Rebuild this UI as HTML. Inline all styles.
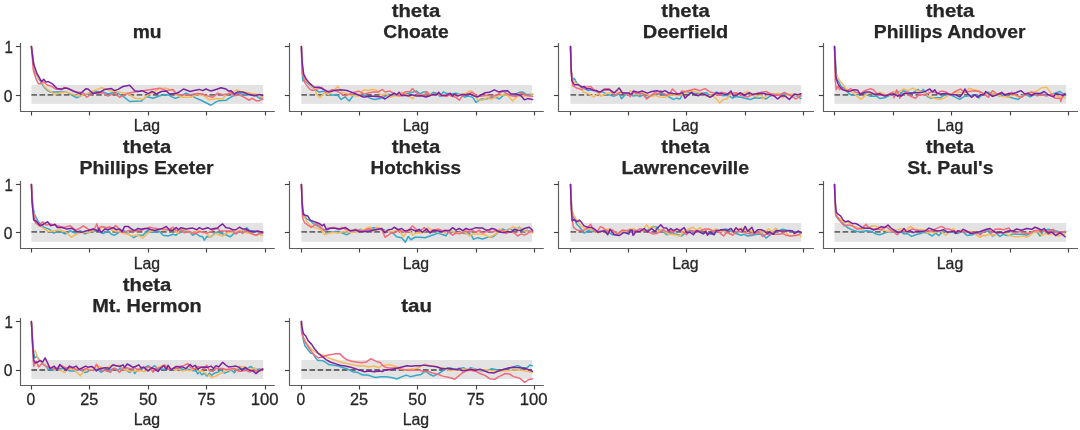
<!DOCTYPE html><html><head><meta charset="utf-8"><style>html,body{margin:0;padding:0;background:#fff;width:1080px;height:430px;overflow:hidden}svg{display:block;will-change:transform}text{font-family:"Liberation Sans",sans-serif;fill:#262626}.t{font-weight:bold;font-size:18.0px;stroke:#262626;stroke-width:0.25px}.k{font-size:16.5px;stroke:#262626;stroke-width:0.3px}</style></head><body>
<svg width="1080" height="430" viewBox="0 0 1080 430">
<rect x="31.4" y="85" width="231.76" height="18.87" fill="#e3e3e3"/>
<line x1="31.4" y1="94.9" x2="263.16" y2="94.9" stroke="#6a6a6a" stroke-width="1.9" stroke-dasharray="5.6 2.5"/>
<path d="M31.4 46.42 L34.98 72.23 L39.63 80.37 L44.28 87.35 L47.77 90.84 L51.26 92.23 L54.05 92.09 L60.56 92.09 L67.07 92.09 L73.58 96.16 L76.84 97.79 L81.72 95.35 L88 94 L89.86 93.72 L96.33 91.5 L103 91.92 L108 94 L114.67 91.92 L123 96.08 L129.67 101.5 L141.33 101.08 L146.33 96.5 L153 98.17 L161.33 95.25 L168 94.83 L174.67 98.17 L176 98.17 L178 97.33 L180.17 96.5 L186 93.17 L191 95.25 L196 98.17 L201 100.25 L206 102.75 L211 105.25 L216 101.92 L219.33 100.67 L226 100.25 L229.33 98.17 L232.67 96.08 L237.67 93.58 L242.67 94 L247.67 94.83 L256 95.67 L259.33 98.17 L262.67 97.75" fill="none" stroke="#37a8c8" stroke-width="1.5" stroke-linejoin="round" stroke-linecap="round"/>
<path d="M31.4 46.42 L33.81 67.58 L38.47 78.05 L41.95 82.12 L44.28 86.19 L47.77 89.67 L51.26 92 L54.05 94.53 L60.56 92.91 L67.07 92.09 L73.58 94.53 L80.09 96.16 L86.6 93.72 L88 93.17 L93.06 90.98 L101.33 87.75 L111.33 90.67 L118 91.92 L128 93.58 L134.67 98.17 L143 99 L148 94.83 L154.67 91.5 L159.67 88.58 L166.33 88.17 L173 90.67 L176 94.83 L178 95.67 L182.67 97.33 L191 97.33 L196 94.83 L201 94.42 L204.33 96.08 L209.33 99.83 L216 98.58 L222.67 99 L226 94.83 L232.67 91.92 L236.83 89.83 L241 91.5 L246 92.33 L251 93.58 L256 94 L259.33 95.67 L262.67 97.33" fill="none" stroke="#f7ba5b" stroke-width="1.5" stroke-linejoin="round" stroke-linecap="round"/>
<path d="M31.4 46.42 L33.23 69.91 L36.14 79.21 L38.47 83.86 L40.79 83.86 L43.12 81.53 L47.19 85.02 L51.26 86.19 L55.91 89.09 L61.72 89.67 L64.05 87.35 L68 88.51 L70.33 89.65 L76.84 92.09 L83.35 92.91 L86.6 96.98 L88 96.5 L91.49 93.72 L94.67 93.17 L103 92.75 L108 96.08 L114.67 93.17 L119.67 97.33 L128 93.17 L134.67 91.92 L146.33 90.25 L154.67 89 L159.67 88.17 L166.33 90.67 L173 89.42 L176.17 93.38 L179.33 94.42 L184.33 94.83 L191 94.42 L197.67 93.58 L202.67 94 L207.67 96.08 L212.67 97.33 L217.67 93.17 L222.67 94.83 L227.67 94 L231 92.75 L234.33 95.67 L239.33 94.83 L244.33 97.33 L249.33 100.25 L251.83 98.17 L256 100.67 L259.33 100.67 L262.67 99" fill="none" stroke="#f26b7d" stroke-width="1.5" stroke-linejoin="round" stroke-linecap="round"/>
<path d="M31.4 46.42 L33.52 63.8 L36.72 72.81 L39.63 78.05 L41.37 81.53 L43.7 79.21 L46.02 82.12 L48.35 81.53 L52.42 83.86 L57.07 88.51 L61.72 89.09 L65.21 87.93 L68 88.51 L73.58 91.28 L80.09 93.72 L85.79 88.84 L88 89 L93.06 93.65 L96.33 92.75 L100.5 91.92 L104.67 89.42 L111.33 88.58 L114.67 90.67 L118 89.42 L123 86.5 L129.67 85.25 L134.67 90.67 L138 91.5 L142.17 90.67 L148 93.58 L152.17 91.5 L156.33 94 L161.33 91.5 L166.33 91.08 L169.67 94 L176 93.58 L178 92.33 L179.33 91.92 L183.5 89 L190.17 91.5 L195.17 90.25 L199.33 89.42 L202.67 90.67 L206 89 L211 91.08 L216 89.42 L221 87.75 L226 89 L228.5 91.08 L231 90.67 L234.33 94 L237.67 91.92 L242.67 91.92 L247.67 94 L254.33 95.67 L259.33 94.42 L262.67 95.67" fill="none" stroke="#7b23a0" stroke-width="1.5" stroke-linejoin="round" stroke-linecap="round"/>
<path d="M20.5 43.07 V111.5 H274.8" fill="none" stroke="#5e5e5e" stroke-width="1.15"/>
<line x1="15.9" y1="46.5" x2="20.5" y2="46.5" stroke="#404040" stroke-width="1.15"/>
<line x1="15.9" y1="95.5" x2="20.5" y2="95.5" stroke="#404040" stroke-width="1.15"/>
<line x1="31.5" y1="111.5" x2="31.5" y2="115.5" stroke="#404040" stroke-width="1.15"/>
<line x1="89.5" y1="111.5" x2="89.5" y2="115.5" stroke="#404040" stroke-width="1.15"/>
<line x1="148.5" y1="111.5" x2="148.5" y2="115.5" stroke="#404040" stroke-width="1.15"/>
<line x1="206.5" y1="111.5" x2="206.5" y2="115.5" stroke="#404040" stroke-width="1.15"/>
<line x1="265.5" y1="111.5" x2="265.5" y2="115.5" stroke="#404040" stroke-width="1.15"/>
<text class="k" x="4.53" y="52.72" textLength="8.37" lengthAdjust="spacingAndGlyphs">1</text>
<text class="k" x="3.72" y="101.65" textLength="8.7" lengthAdjust="spacingAndGlyphs">0</text>
<text class="k" x="133.7" y="130.8" textLength="26.43" lengthAdjust="spacingAndGlyphs">Lag</text>
<text class="t" x="132.66" y="38.07" textLength="28.88" lengthAdjust="spacingAndGlyphs">mu</text>
<rect x="301.4" y="85" width="230.67" height="18.87" fill="#e3e3e3"/>
<line x1="301.4" y1="94.9" x2="532.07" y2="94.9" stroke="#6a6a6a" stroke-width="1.9" stroke-dasharray="5.6 2.5"/>
<path d="M301.4 46.42 L302.07 72.56 L302.88 80.7 L305.33 81.51 L309.4 84.77 L314.28 88.84 L319.16 92.09 L324.05 91.28 L330.56 95.35 L337.07 94.53 L341.14 99.42 L345.21 96.98 L349.28 101.05 L353.35 95.35 L359.93 95.31 L365 95.25 L366.37 96.16 L370 98.17 L375 99.42 L380 98.58 L383.33 97.33 L388.33 94.42 L393.33 94.83 L398.33 95.25 L403.33 94 L408.33 93.58 L413.33 91.92 L416.67 91.08 L420 94 L423.33 91.92 L426.67 91.92 L430 94.83 L433.33 92.33 L436.67 93.17 L440 96.5 L443.33 91.92 L446.33 93.38 L450 93.58 L451 94 L456 93.17 L461 94.83 L464.33 96.92 L469.33 96.08 L472.67 97.33 L476 102.33 L481 99 L486 99 L491 97.75 L496 97.33 L499.33 99 L504.33 94.42 L507.67 94 L511 95.25 L514.33 94.42 L519.33 92.33 L522.67 91.92 L526 94.42 L532.67 94.42" fill="none" stroke="#37a8c8" stroke-width="1.5" stroke-linejoin="round" stroke-linecap="round"/>
<path d="M301.4 46.42 L302.07 70.93 L304.51 79.07 L309.4 83.95 L314.28 88.84 L317.53 95.35 L319.98 97.79 L324.05 92.91 L328.93 94.53 L333.81 90.47 L337.88 86.4 L341.95 92.09 L346.84 93.72 L351.72 95.35 L358.23 96.16 L360 94.42 L363.12 90.47 L365 89.83 L368 90.47 L370 89.83 L373.33 89.42 L376.67 90.25 L380 94.42 L383.33 94.83 L386.67 94 L390 97.33 L393.33 96.08 L398.33 96.08 L401.67 92.33 L405 94 L408.33 95.25 L412.5 99 L415 95.67 L420 94.83 L425 94 L428.33 93.17 L431.67 94.83 L435 94 L440 94.83 L443.33 94.83 L446.33 95.04 L450 94 L451 96.08 L456 95.25 L461 94.42 L466 93.17 L471 90.67 L474.33 94.83 L477.67 99.83 L482.67 100.25 L487.67 97.33 L491 99.42 L496 96.92 L501 94.83 L507.67 95.25 L512.67 101.08 L516.83 96.5 L521 95.67 L526 96.08 L529.33 96.08 L532.67 93.58" fill="none" stroke="#f7ba5b" stroke-width="1.5" stroke-linejoin="round" stroke-linecap="round"/>
<path d="M301.4 46.42 L302.07 69.3 L304.51 82.33 L309.4 88.84 L312.65 90.47 L317.53 88.84 L321.6 87.21 L326.49 92.09 L332.19 89.65 L338.7 92.09 L345.21 96.16 L351.72 92.91 L358.23 91.28 L360 91.5 L363.12 93.72 L365 94 L368.17 93.02 L373.33 91.92 L378.33 91.92 L382.5 89.42 L385 91.92 L390 91.08 L395 94 L400 96.08 L405 91.92 L410 91.5 L412.5 88.58 L415.83 92.33 L420 95.25 L425 94.83 L426.67 91.92 L430 95.25 L435 94 L440 94.42 L446.33 96.5 L450 94.42 L451 96.08 L456 97.33 L459.33 100.25 L462.67 95.67 L467.67 94 L472.67 92.33 L477.67 96.5 L482.67 96.08 L487.67 95.25 L492.67 96.5 L497.67 94.42 L502.67 91.08 L506 93.17 L511 95.67 L516 96.5 L521 92.75 L526 95.25 L532.67 96.5" fill="none" stroke="#f26b7d" stroke-width="1.5" stroke-linejoin="round" stroke-linecap="round"/>
<path d="M301.4 46.42 L302.07 61.16 L303.7 74.19 L306.14 79.07 L309.4 83.14 L314.28 87.21 L319.16 87.21 L324.05 89.65 L328.93 92.09 L333.81 90.47 L340.33 89.65 L346.84 90.47 L353.35 92.91 L359.93 95.52 L363.12 96.98 L365 96.92 L368 96.16 L370 96.08 L376.67 96.5 L381.67 96.92 L385 99 L390 95.67 L394.17 93.17 L396.67 94.83 L399.17 92.33 L401.67 95.67 L405 95.25 L408.33 96.08 L411.67 94.83 L416.67 96.08 L421.67 95.67 L425.83 96.92 L430 95.67 L433.33 94.42 L436.67 94.83 L438.75 92.33 L441.67 95.67 L446.33 95.25 L450.08 93.38 L452.67 96.08 L454.33 94 L457.67 96.08 L461.83 94.42 L466 94.83 L470.17 94 L474.33 96.08 L477.67 96.92 L481 94.83 L485.17 92.75 L489.33 92.33 L494.33 89.83 L498.5 91.92 L502.67 91.08 L507.67 90.67 L511 94 L516 94 L521 95.67 L524.33 99.83 L527.67 98.58 L532.67 99.42" fill="none" stroke="#7b23a0" stroke-width="1.5" stroke-linejoin="round" stroke-linecap="round"/>
<path d="M289.5 43.07 V111.5 H543.8" fill="none" stroke="#5e5e5e" stroke-width="1.15"/>
<line x1="284.9" y1="46.5" x2="289.5" y2="46.5" stroke="#404040" stroke-width="1.15"/>
<line x1="284.9" y1="95.5" x2="289.5" y2="95.5" stroke="#404040" stroke-width="1.15"/>
<line x1="301.5" y1="111.5" x2="301.5" y2="115.5" stroke="#404040" stroke-width="1.15"/>
<line x1="359.5" y1="111.5" x2="359.5" y2="115.5" stroke="#404040" stroke-width="1.15"/>
<line x1="417.5" y1="111.5" x2="417.5" y2="115.5" stroke="#404040" stroke-width="1.15"/>
<line x1="476.5" y1="111.5" x2="476.5" y2="115.5" stroke="#404040" stroke-width="1.15"/>
<line x1="534.5" y1="111.5" x2="534.5" y2="115.5" stroke="#404040" stroke-width="1.15"/>
<text class="k" x="402.65" y="130.8" textLength="26.43" lengthAdjust="spacingAndGlyphs">Lag</text>
<text class="t" x="391.68" y="17.07" textLength="48.52" lengthAdjust="spacingAndGlyphs">theta</text>
<text class="t" x="383.39" y="38.07" textLength="65.31" lengthAdjust="spacingAndGlyphs">Choate</text>
<rect x="570.5" y="85" width="230.62" height="18.87" fill="#e3e3e3"/>
<line x1="570.5" y1="94.9" x2="801.12" y2="94.9" stroke="#6a6a6a" stroke-width="1.9" stroke-dasharray="5.6 2.5"/>
<path d="M570.5 46.42 L571.07 69.3 L572.7 80.7 L574.33 78.26 L576.77 83.14 L580.02 85.58 L584.91 88.84 L588.16 90.47 L593.05 89.65 L597.93 92.09 L602.81 92.09 L607.7 94.53 L614.21 96.16 L619.09 93.72 L621.53 98.6 L625.6 94.53 L630 94.83 L632.12 95.35 L633.33 96.08 L637 95.35 L640 96.5 L643.33 94.83 L646.67 97.75 L651.67 95.67 L656.67 94.83 L660.83 92.75 L665 95.25 L668.33 96.5 L673.33 99.42 L676.67 98.17 L680 99 L683.33 92.75 L686.67 92.33 L691.67 93.17 L696.67 93.58 L701.67 93.17 L706.67 92.75 L710 96.08 L713.33 95.67 L716.33 91.92 L719.67 94 L722.67 95.67 L727.67 95.25 L732.67 98.17 L736 96.5 L741 97.33 L746 98.58 L751 99.42 L754.33 97.75 L759.33 98.17 L762.67 97.33 L766 99 L769.33 96.5 L774.33 94 L779.33 94.42 L784.33 94 L789.33 94.83 L796 95.67 L801 98.58" fill="none" stroke="#37a8c8" stroke-width="1.5" stroke-linejoin="round" stroke-linecap="round"/>
<path d="M570.5 46.42 L571.07 69.3 L572.7 80.7 L576.77 83.95 L580.02 85.58 L583.28 92.09 L586.53 92.91 L589.79 94.53 L593.86 96.98 L597.93 93.72 L601.19 96.16 L606.07 93.72 L612.58 92.09 L617.47 92.09 L622.35 92.91 L628.86 94.53 L630 90.67 L632.12 92.09 L633.33 94 L637 93.72 L638.33 94.83 L641.67 92.75 L646.67 94 L651.67 96.5 L655 95.25 L659.17 96.92 L665 97.33 L670 94.83 L676.67 95.67 L681.67 94.83 L686.67 91.92 L693.33 91.08 L696.67 91.92 L701.67 93.17 L706.67 96.5 L711.67 94.83 L716.33 98.58 L719.67 102.96 L722.67 99.83 L726.83 99 L730.17 94.42 L734.33 93.58 L739.33 94.83 L744.33 92.75 L747.67 91.5 L751 94.83 L756 96.5 L761 94.83 L762.67 99 L767.67 95.25 L772.67 94.42 L777.67 93.17 L782.67 97.75 L787.67 94 L794.33 94.83 L801 96.5" fill="none" stroke="#f7ba5b" stroke-width="1.5" stroke-linejoin="round" stroke-linecap="round"/>
<path d="M570.5 46.42 L571.07 72.56 L572.7 85.58 L576.77 88.02 L581.65 89.65 L585.72 87.21 L590.6 86.4 L594.67 90.47 L599.56 92.91 L604.44 88.84 L609.33 88.84 L614.21 95.35 L620.72 92.09 L627.23 93.72 L630.24 96.75 L632.5 92.33 L633.74 92.09 L636.83 93.45 L642.5 93.58 L646.67 99 L650.83 95.67 L655 92.33 L658.33 94 L660.83 90.67 L663.33 93.17 L666.67 95.25 L670 93.17 L672.5 89 L675.83 92.33 L679.17 94.83 L681.67 91.08 L685 91.5 L690 90.25 L695 89 L700 90.67 L705 88.58 L710 91.92 L713.33 92.75 L716.33 94.21 L720 95.25 L721 92.33 L726 93.17 L731 93.58 L736 92.75 L741 95.25 L747.67 96.92 L752.67 94.83 L759.33 92.75 L766 91.5 L769.33 93.17 L774.33 94.83 L779.33 95.25 L784.33 92.33 L789.33 94.83 L796 99 L801 95.67" fill="none" stroke="#f26b7d" stroke-width="1.5" stroke-linejoin="round" stroke-linecap="round"/>
<path d="M570.5 46.42 L571.07 66.05 L571.88 80.7 L574.33 84.77 L578.4 84.77 L581.65 87.21 L584.09 86.4 L586.53 88.84 L590.6 88.84 L593.05 90.47 L596.3 90.47 L599.56 92.09 L604.44 89.65 L609.33 89.65 L614.21 92.91 L619.09 88.02 L622.35 92.91 L628.86 92.91 L630 94 L632.12 93.72 L633.33 91.08 L637 92.09 L638.33 92.33 L642.5 91.08 L647.5 93.17 L651.67 91.5 L656.67 90.67 L661.67 91.92 L665 90.67 L668.33 92.75 L673.33 93.58 L676.67 94 L680 93.58 L682.5 92.75 L685 98.17 L688.33 94.83 L691.67 92.33 L695 94.83 L698.33 95.67 L701.67 93.58 L706.67 95.25 L710 97.33 L713.33 95.25 L716.33 92.75 L720 93.58 L721 93.17 L724.33 94.42 L727.67 94 L731 91.08 L733.5 96.08 L736.83 94.83 L740.17 92.75 L744.33 95.25 L749.33 92.75 L752.67 94.42 L757.67 93.58 L762.67 93.17 L766 94 L769.33 94.42 L774.33 96.08 L777.67 99 L781 96.08 L785.17 96.08 L789.33 99.42 L794.33 94 L797.67 94.83 L801 93.58" fill="none" stroke="#7b23a0" stroke-width="1.5" stroke-linejoin="round" stroke-linecap="round"/>
<path d="M558.5 43.07 V111.5 H813.9" fill="none" stroke="#5e5e5e" stroke-width="1.15"/>
<line x1="553.9" y1="46.5" x2="558.5" y2="46.5" stroke="#404040" stroke-width="1.15"/>
<line x1="553.9" y1="95.5" x2="558.5" y2="95.5" stroke="#404040" stroke-width="1.15"/>
<line x1="570.5" y1="111.5" x2="570.5" y2="115.5" stroke="#404040" stroke-width="1.15"/>
<line x1="628.5" y1="111.5" x2="628.5" y2="115.5" stroke="#404040" stroke-width="1.15"/>
<line x1="686.5" y1="111.5" x2="686.5" y2="115.5" stroke="#404040" stroke-width="1.15"/>
<line x1="745.5" y1="111.5" x2="745.5" y2="115.5" stroke="#404040" stroke-width="1.15"/>
<line x1="803.5" y1="111.5" x2="803.5" y2="115.5" stroke="#404040" stroke-width="1.15"/>
<text class="k" x="672.15" y="130.8" textLength="26.43" lengthAdjust="spacingAndGlyphs">Lag</text>
<text class="t" x="661.18" y="17.07" textLength="48.52" lengthAdjust="spacingAndGlyphs">theta</text>
<text class="t" x="642.75" y="38.07" textLength="85.59" lengthAdjust="spacingAndGlyphs">Deerfield</text>
<rect x="834.5" y="85" width="231.76" height="18.87" fill="#e3e3e3"/>
<line x1="834.5" y1="94.9" x2="1066.26" y2="94.9" stroke="#6a6a6a" stroke-width="1.9" stroke-dasharray="5.6 2.5"/>
<path d="M834.5 46.42 L836.81 79.21 L839.14 82.7 L841.47 86.77 L843.91 87.86 L848.91 93.72 L853.79 95.35 L858.67 94.53 L863.56 92.91 L870.07 96.16 L876.58 96.16 L879.84 98.6 L884.72 97.79 L889.6 95.35 L894 94.42 L896.12 94.53 L899 91.5 L901 93.72 L903.17 90.67 L907.33 91.92 L912.33 93.17 L918.17 89.42 L920.67 91.92 L923.17 89.42 L925.67 92.33 L927.33 96.5 L930.67 98.17 L935.67 97.75 L940.67 97.75 L944 95.25 L947.33 94.83 L951.5 95.25 L955.67 97.33 L959.83 99.42 L964 96.5 L969 95.67 L973.17 95.25 L977.33 94.83 L979 98.17 L980 96.5 L983.67 94.21 L988.33 92.33 L993.33 94 L1000 96.08 L1005 94.83 L1010 97.33 L1013.33 98.17 L1018.33 99.42 L1023.33 94.42 L1026.67 94.83 L1030 96.92 L1035 94 L1040 93.58 L1045 94.83 L1050 94.83 L1055 93.17 L1060 91.5 L1063.33 94 L1065 95.67" fill="none" stroke="#37a8c8" stroke-width="1.5" stroke-linejoin="round" stroke-linecap="round"/>
<path d="M834.5 46.42 L835.65 72.23 L837.98 78.05 L840.3 81.53 L842.63 83.86 L844.95 87.35 L847.28 89.67 L852.16 92.09 L857.05 96.16 L861.12 99.42 L865.19 95.35 L870.07 92.91 L874.95 94.53 L879.84 92.09 L884.72 94.53 L889.6 95.35 L894 91.5 L896.12 92.09 L897.33 94 L900.83 90.76 L904 89 L907.33 90.67 L913.17 88.17 L917.33 90.67 L920.67 91.5 L924.83 93.17 L929 96.5 L934 98.17 L940.67 99.42 L944 98.17 L949 94.83 L954 92.75 L959 91.92 L964 93.17 L969 88.17 L974 89.83 L979 90.67 L980 94 L984 94 L985 94.83 L990 93.17 L996.67 94.42 L1001.67 96.5 L1008.33 97.33 L1013.33 94.83 L1018.33 96.92 L1023.33 95.67 L1030 93.17 L1036.67 91.08 L1041.67 87.75 L1046.67 87.33 L1050 91.92 L1053.33 94.83 L1058.33 96.5 L1063.33 97.33 L1065 98.17" fill="none" stroke="#f7ba5b" stroke-width="1.5" stroke-linejoin="round" stroke-linecap="round"/>
<path d="M834.5 46.42 L835.24 80.37 L836.23 89.67 L837.98 86.19 L839.72 89.67 L841.47 87.93 L843.79 89.67 L847.28 90.84 L850.77 88.51 L855.42 92.09 L860.3 93.72 L865.19 90.47 L870.07 88.84 L873.33 89.65 L878.21 95.35 L883.09 95.35 L887.98 94.53 L892.86 92.09 L894 97.75 L896.72 89.74 L899.83 98.17 L901 95.35 L903.17 94 L906.5 91.92 L910.67 96.5 L915.67 98.17 L919 94.83 L922.33 94.83 L925.67 94.83 L929 92.75 L932.33 91.5 L937.33 93.17 L941.5 91.08 L945.67 91.92 L950.67 94.83 L955.67 91.08 L960.67 89 L964 92.33 L969 91.5 L974 90.67 L980.33 91.71 L984.08 94 L988.33 97.33 L992.5 90.67 L996.67 94 L1001.67 93.17 L1006.67 94.42 L1011.67 92.33 L1015 94.42 L1018.33 96.08 L1021.67 97.33 L1026.67 93.17 L1031.67 91.92 L1036.67 95.67 L1041.67 94.83 L1046.67 96.08 L1051.67 94 L1055 98.17 L1060 98.17 L1060.83 101.5 L1063.33 94 L1065 95.25" fill="none" stroke="#f26b7d" stroke-width="1.5" stroke-linejoin="round" stroke-linecap="round"/>
<path d="M834.5 46.42 L835.94 77.76 L837.98 83.86 L840.3 87.35 L842.63 89.67 L846.12 90.84 L849.6 91.42 L854.26 89.67 L857.8 90.36 L860.3 94.53 L865.19 92.09 L870.07 92.09 L874.95 94.53 L879.84 93.72 L884.72 96.16 L889.6 94.53 L894.24 94.09 L897.74 96.16 L899 95.25 L901 96.16 L904 93.58 L909 93.58 L914 92.75 L919 92.75 L922.33 92.33 L925.67 91.08 L929.83 89 L932.33 91.92 L934.83 89.83 L937.33 93.58 L940.67 94 L945.67 93.58 L950.67 94.42 L955.67 94.83 L959.83 96.92 L962.33 94 L964.83 89 L967.33 93.17 L971.5 97.33 L974.83 94.83 L977.33 97.33 L980.33 94.83 L984 94.42 L985.83 91.5 L992.5 96.5 L996.67 94.83 L1001.67 92.33 L1005 95.25 L1008.33 93.58 L1011.67 94 L1015.83 92.75 L1020.83 90.67 L1025 94 L1028.33 93.58 L1031.67 95.67 L1035 93.17 L1040 93.58 L1044.17 91.5 L1048.33 94.83 L1053.33 96.92 L1055.83 93.58 L1060 94.42 L1063.33 95.67 L1065 93.58" fill="none" stroke="#7b23a0" stroke-width="1.5" stroke-linejoin="round" stroke-linecap="round"/>
<path d="M823.5 43.07 V111.5 H1078" fill="none" stroke="#5e5e5e" stroke-width="1.15"/>
<line x1="818.9" y1="46.5" x2="823.5" y2="46.5" stroke="#404040" stroke-width="1.15"/>
<line x1="818.9" y1="95.5" x2="823.5" y2="95.5" stroke="#404040" stroke-width="1.15"/>
<line x1="834.5" y1="111.5" x2="834.5" y2="115.5" stroke="#404040" stroke-width="1.15"/>
<line x1="893.5" y1="111.5" x2="893.5" y2="115.5" stroke="#404040" stroke-width="1.15"/>
<line x1="951.5" y1="111.5" x2="951.5" y2="115.5" stroke="#404040" stroke-width="1.15"/>
<line x1="1010.5" y1="111.5" x2="1010.5" y2="115.5" stroke="#404040" stroke-width="1.15"/>
<line x1="1068.5" y1="111.5" x2="1068.5" y2="115.5" stroke="#404040" stroke-width="1.15"/>
<text class="k" x="936.8" y="130.8" textLength="26.43" lengthAdjust="spacingAndGlyphs">Lag</text>
<text class="t" x="925.83" y="17.07" textLength="48.52" lengthAdjust="spacingAndGlyphs">theta</text>
<text class="t" x="873.84" y="38.07" textLength="151.63" lengthAdjust="spacingAndGlyphs">Phillips Andover</text>
<rect x="31.4" y="222.9" width="231.76" height="18.9" fill="#e3e3e3"/>
<line x1="31.4" y1="231.9" x2="263.16" y2="231.9" stroke="#6a6a6a" stroke-width="1.9" stroke-dasharray="5.6 2.5"/>
<path d="M31.4 184.4 L32.88 206.3 L34.51 214.44 L37.77 220.95 L41.02 224.21 L44.28 227.47 L49.16 229.09 L54.05 233.16 L58.93 230.72 L65.44 233.98 L70.33 230.72 L75.21 233.16 L80.09 230.72 L84.98 233.98 L88 232.67 L91.41 231.68 L94.67 231 L98 230.66 L103 233.5 L108 231 L111.33 234.33 L114.67 235.17 L118 233.08 L121.33 230.17 L124.67 231 L128 233.92 L131.33 236 L133.83 237.67 L138 235.17 L143 235.17 L146.33 231.42 L148 229.75 L151.33 232.25 L154.67 232.25 L159.67 231.42 L163 235.17 L168 236 L173 234.33 L176 235.17 L178 233.5 L179.33 233.08 L182.67 230.17 L186 231.42 L189.33 231.83 L192.67 235.17 L196 233.5 L199.33 236 L202.67 236.83 L204.33 240.17 L206.83 236.42 L211 236.83 L214.33 233.5 L217.67 231.83 L221 233.5 L226 234.75 L230.17 236.83 L234.33 233.08 L239.33 232.25 L242.67 231.83 L246.83 227.67 L249.33 230.58 L254.33 231 L257.67 231.83 L262.67 231.83" fill="none" stroke="#37a8c8" stroke-width="1.5" stroke-linejoin="round" stroke-linecap="round"/>
<path d="M31.4 184.4 L32.88 209.56 L35.33 220.95 L39.4 225.02 L44.28 229.09 L49.16 231.53 L54.05 230.72 L58.93 229.91 L65.44 231.53 L71.14 237.23 L76.84 233.98 L81.72 232.35 L88.12 232.5 L93.06 230.65 L98 229.61 L102.17 227.25 L106.33 228.5 L111.33 229.75 L114.67 231 L118 231.42 L121.33 232.67 L124.67 233.92 L128 233.92 L131.33 236 L135.5 235.17 L139.67 236 L143 238.08 L146.33 234.33 L149.67 231.42 L154.67 230.58 L159.67 229.33 L164.67 230.17 L169.67 228.92 L174.67 230.17 L176 232.25 L178 233.08 L179.33 230.17 L182.67 229.33 L187.67 230.58 L191 232.67 L196 231.83 L199.33 230.58 L202.67 232.25 L206 233.08 L209.33 236.83 L212.67 235.58 L216 233.5 L219.33 234.75 L222.67 236 L226 233.5 L229.33 232.25 L232.67 232.25 L236 231.83 L239.33 230.58 L242.67 230.17 L246 232.67 L251 233.5 L256 235.58 L259.33 234.33 L262.67 235.58" fill="none" stroke="#f7ba5b" stroke-width="1.5" stroke-linejoin="round" stroke-linecap="round"/>
<path d="M31.4 184.4 L32.56 207.93 L35.33 222.58 L39.4 225.84 L42.65 221.77 L45.91 225.02 L50.79 224.21 L57.3 225.84 L63.81 227.47 L70.33 225.84 L75.21 229.91 L78.47 229.09 L83.35 225.84 L88.12 229 L91.33 230.58 L93.12 229.09 L94.67 228.5 L96.97 223.85 L98 229.09 L98.83 227.67 L102.17 226.42 L106.33 227.67 L109.67 226.83 L113 228.5 L115.5 225.58 L118 227.67 L121.33 232.25 L124.67 232.25 L128 230.58 L131.33 230.58 L136.33 231 L141.33 230.17 L146.33 228.5 L149.67 227.25 L153 228.08 L156.33 228.5 L159.67 228.92 L164.67 228.92 L168 230.17 L173 227.25 L176.17 230.38 L178 230.17 L181 229.75 L184.33 232.67 L189.33 231.42 L192.67 233.08 L196 233.5 L199.33 231.42 L202.67 232.25 L207.67 233.08 L211 231.42 L214.33 229.33 L217.67 228.5 L220.17 231 L224.33 231 L227.67 231 L232.67 231 L236 233.92 L239.33 231 L242.67 233.5 L246 230.17 L251 233.5 L256 235.17 L259.33 233.5 L262.67 233.5" fill="none" stroke="#f26b7d" stroke-width="1.5" stroke-linejoin="round" stroke-linecap="round"/>
<path d="M31.4 184.4 L32.07 201.42 L33.7 220.14 L36.14 220.95 L40.21 225.84 L43.47 224.21 L47.53 221.77 L50.79 225.84 L54.86 224.21 L57.3 227.47 L62.19 227.47 L67.07 229.09 L71.95 228.28 L76.84 231.53 L81.72 232.35 L86.6 230.72 L88 230.58 L93.06 229 L96.33 230.17 L98 231.53 L98.83 228.5 L101.33 232.67 L104.67 228.92 L108 229.75 L113 227.67 L116.33 229.75 L119.67 228.92 L122.17 231.42 L124.67 226.42 L128 226.42 L131.33 228.92 L134.67 230.58 L138 228.5 L141.33 229.33 L144.67 228.5 L148 228.5 L151.33 229.75 L154.67 230.58 L159.67 229.33 L163 228.08 L166.33 226.42 L169.67 230.17 L173 230.17 L176.17 227.46 L178.25 229.54 L181 227.67 L186 228.92 L189.33 228.5 L192.67 228.08 L196.83 229.75 L199.33 227.67 L202.67 229.33 L207.67 227.67 L211 229.33 L214.33 228.5 L217.67 228.08 L220.17 225.58 L222.67 223.92 L226 227.67 L229.33 228.08 L232.67 229.75 L236 229.75 L239.33 227.25 L242.67 228.92 L246 228.92 L249.33 231 L254.33 231.83 L257.67 231 L262.67 232.25" fill="none" stroke="#7b23a0" stroke-width="1.5" stroke-linejoin="round" stroke-linecap="round"/>
<path d="M20.5 181.07 V248.5 H274.8" fill="none" stroke="#5e5e5e" stroke-width="1.15"/>
<line x1="15.9" y1="184.5" x2="20.5" y2="184.5" stroke="#404040" stroke-width="1.15"/>
<line x1="15.9" y1="232.5" x2="20.5" y2="232.5" stroke="#404040" stroke-width="1.15"/>
<line x1="31.5" y1="248.5" x2="31.5" y2="252.5" stroke="#404040" stroke-width="1.15"/>
<line x1="89.5" y1="248.5" x2="89.5" y2="252.5" stroke="#404040" stroke-width="1.15"/>
<line x1="148.5" y1="248.5" x2="148.5" y2="252.5" stroke="#404040" stroke-width="1.15"/>
<line x1="206.5" y1="248.5" x2="206.5" y2="252.5" stroke="#404040" stroke-width="1.15"/>
<line x1="265.5" y1="248.5" x2="265.5" y2="252.5" stroke="#404040" stroke-width="1.15"/>
<text class="k" x="4.53" y="190.7" textLength="8.37" lengthAdjust="spacingAndGlyphs">1</text>
<text class="k" x="3.72" y="238.86" textLength="8.7" lengthAdjust="spacingAndGlyphs">0</text>
<text class="k" x="133.7" y="268.8" textLength="26.43" lengthAdjust="spacingAndGlyphs">Lag</text>
<text class="t" x="122.73" y="153.37" textLength="48.52" lengthAdjust="spacingAndGlyphs">theta</text>
<text class="t" x="79.44" y="174.37" textLength="134.19" lengthAdjust="spacingAndGlyphs">Phillips Exeter</text>
<rect x="301.4" y="222.9" width="230.67" height="18.9" fill="#e3e3e3"/>
<line x1="301.4" y1="231.9" x2="532.07" y2="231.9" stroke="#6a6a6a" stroke-width="1.9" stroke-dasharray="5.6 2.5"/>
<path d="M301.4 184.4 L302.56 209.56 L304.51 216.07 L306.95 219.33 L309.4 220.14 L314.28 224.21 L319.16 226.65 L324.05 229.91 L326.49 233.16 L330.56 232.35 L335.44 231.53 L340.33 232.35 L346.84 234.79 L351.72 231.53 L356.6 231.53 L360 229.33 L363.12 229.91 L365 230.58 L368 229.91 L370 228.5 L373.33 227.67 L378.33 228.5 L381.67 228.92 L385 230.17 L388.33 231 L393.33 233.5 L396.67 236.83 L401.67 237.67 L405.42 242.25 L408.33 236.42 L410.83 239.75 L415 237.25 L420 237.25 L425 237.67 L430 236 L435 234.33 L438.33 233.08 L441.67 234.33 L445.92 235.79 L448.5 231.83 L450 231.42 L452.67 231.42 L456 233.5 L459.33 232.67 L464.33 233.5 L469.33 233.5 L471.83 236 L473.5 239.33 L477.67 237.67 L482.67 238.92 L487.67 237.25 L492.67 236.83 L496 234.33 L499.33 231 L502.67 228.92 L506 230.58 L509.33 228.92 L512.67 230.17 L516 229.75 L519.33 227.25 L522.67 231 L527.67 230.58 L532.67 232.25" fill="none" stroke="#37a8c8" stroke-width="1.5" stroke-linejoin="round" stroke-linecap="round"/>
<path d="M301.4 184.4 L302.56 212.81 L304.51 217.7 L307.77 222.58 L311.02 225.84 L314.28 227.47 L318.35 228.28 L321.6 230.72 L324.86 234.79 L328.93 233.16 L333.81 232.35 L338.7 233.16 L343.58 231.53 L348.47 232.35 L353.35 232.35 L358.23 231.53 L360 230.17 L363.22 229.82 L366.67 228.08 L368 228.28 L370 226.83 L373.33 231.83 L376.67 227.25 L380 228.08 L383.33 230.17 L386.67 231 L390 231.83 L393.33 231.42 L396.67 230.17 L400 231.42 L403.33 236.83 L406.67 231.83 L410 231 L412.5 235.17 L416.67 232.67 L421.67 233.08 L425 231 L428.33 227.67 L431.67 230.17 L438.33 228.92 L441.67 231.42 L445 233.08 L446 231.42 L450 230.17 L451 231 L456 233.08 L461 232.25 L466 232.67 L469.33 236 L472.67 233.92 L477.67 233.92 L482.67 234.33 L486 235.17 L489.33 237.25 L492.67 235.58 L496 233.92 L499.33 228.92 L502.67 231 L507.67 230.58 L512.67 226.83 L517.67 228.5 L521 227.67 L524.33 231 L529.33 231.42 L532.67 233.08" fill="none" stroke="#f7ba5b" stroke-width="1.5" stroke-linejoin="round" stroke-linecap="round"/>
<path d="M301.4 184.4 L302.56 217.7 L304.51 222.58 L307.77 225.02 L311.02 227.47 L313.47 225.84 L316.72 223.4 L319.98 226.65 L324.05 230.72 L327.3 228.28 L333.81 227.47 L338.7 229.91 L341.95 227.47 L346.84 229.91 L351.72 231.53 L355.79 229.09 L359.93 230.86 L364.87 230.44 L368.17 228.79 L371.67 230.17 L376.67 229.75 L380 228.92 L382.5 231 L385 237.25 L388.33 235.17 L391.67 232.67 L395 232.67 L398.33 230.58 L401.67 231 L406.67 232.25 L410 228.5 L412.5 226 L416.67 229.75 L420 231 L424.17 227.67 L426.67 229.75 L430 231.83 L433.33 230.17 L438.33 229.33 L443.33 231 L446 231 L449.67 232.88 L452.67 235.17 L456 232.67 L459.33 233.92 L462.67 232.25 L466 231 L469.33 232.25 L472.67 230.58 L476 232.25 L479.33 230.17 L482.67 233.08 L486 231.83 L489.33 231 L492.67 232.25 L496 230.17 L499.33 232.25 L502.67 230.17 L506 233.5 L509.33 231.83 L512.67 232.25 L515.17 233.5 L517.67 236 L521 233.92 L524.33 235.17 L527.67 233.5 L529.33 231.42 L532.67 231.42" fill="none" stroke="#f26b7d" stroke-width="1.5" stroke-linejoin="round" stroke-linecap="round"/>
<path d="M301.4 184.4 L302.07 201.42 L303.21 214.44 L305.33 215.26 L307.77 216.07 L310.21 220.14 L314.28 221.77 L319.16 223.4 L322.42 225.84 L324.05 224.21 L326.49 229.91 L330.56 228.28 L335.44 228.28 L340.33 229.09 L345.21 227.47 L350.09 230.72 L354.98 229.91 L359.93 231.68 L365 231.42 L368 231.53 L370 231 L375 229.75 L378.33 229.33 L381.67 228.5 L385 232.67 L388.33 229.75 L391.67 229.33 L394.17 227.25 L398.33 229.75 L401.67 228.5 L405 231 L408.33 230.17 L411.67 229.33 L415.83 231 L419.17 229.33 L422.5 232.25 L426.67 228.92 L430 233.08 L433.33 230.17 L438.33 231 L441.67 231.83 L445 230.17 L446 230.58 L449.67 230.38 L452.67 227.67 L456 230.17 L459.33 228.5 L462.67 230.58 L466 228.5 L469.33 229.75 L472.67 228.92 L476 227.67 L479.33 228.08 L482.67 228.08 L486 230.17 L489.33 229.75 L491.83 228.5 L494.33 228.92 L497.67 231 L501 232.25 L504.33 232.67 L507.67 231.42 L511 232.25 L514.33 229.33 L517.67 230.17 L521 230.58 L524.33 228.5 L529.33 227.25 L532.67 230.58" fill="none" stroke="#7b23a0" stroke-width="1.5" stroke-linejoin="round" stroke-linecap="round"/>
<path d="M289.5 181.07 V248.5 H543.8" fill="none" stroke="#5e5e5e" stroke-width="1.15"/>
<line x1="284.9" y1="184.5" x2="289.5" y2="184.5" stroke="#404040" stroke-width="1.15"/>
<line x1="284.9" y1="232.5" x2="289.5" y2="232.5" stroke="#404040" stroke-width="1.15"/>
<line x1="301.5" y1="248.5" x2="301.5" y2="252.5" stroke="#404040" stroke-width="1.15"/>
<line x1="359.5" y1="248.5" x2="359.5" y2="252.5" stroke="#404040" stroke-width="1.15"/>
<line x1="417.5" y1="248.5" x2="417.5" y2="252.5" stroke="#404040" stroke-width="1.15"/>
<line x1="476.5" y1="248.5" x2="476.5" y2="252.5" stroke="#404040" stroke-width="1.15"/>
<line x1="534.5" y1="248.5" x2="534.5" y2="252.5" stroke="#404040" stroke-width="1.15"/>
<text class="k" x="402.65" y="268.8" textLength="26.43" lengthAdjust="spacingAndGlyphs">Lag</text>
<text class="t" x="391.68" y="153.37" textLength="48.52" lengthAdjust="spacingAndGlyphs">theta</text>
<text class="t" x="370.46" y="174.37" textLength="90.61" lengthAdjust="spacingAndGlyphs">Hotchkiss</text>
<rect x="570.5" y="222.9" width="230.62" height="18.9" fill="#e3e3e3"/>
<line x1="570.5" y1="231.9" x2="801.12" y2="231.9" stroke="#6a6a6a" stroke-width="1.9" stroke-dasharray="5.6 2.5"/>
<path d="M570.5 184.4 L571.88 209.56 L574.33 219.33 L576.77 224.21 L580.02 227.47 L584.09 233.16 L588.16 230.72 L593.05 231.53 L597.93 231.53 L602.81 230.72 L607.7 231.53 L612.58 234.79 L617.47 233.98 L622.35 231.53 L627.23 233.16 L630 229.75 L632.12 231.53 L633.33 231.83 L637 230.72 L638.33 230.17 L643.33 230.58 L646.67 230.58 L650 228.92 L653.33 226.42 L656.67 227.25 L660 231 L663.33 231.42 L666.67 234.75 L671.67 233.5 L676.67 234.33 L681.67 236 L685 233.08 L688.33 231 L693.33 231.83 L698.33 230.58 L702.5 233.08 L706.67 232.67 L711.67 234.33 L716.33 230.79 L720 230.17 L721 229.75 L726 228.92 L729.33 230.58 L732.67 231.83 L736 233.5 L741 235.17 L744.33 234.33 L747.67 236 L752.67 235.17 L757.67 233.92 L762.67 234.33 L766 238.08 L769.33 235.58 L772.67 233.08 L776 231.42 L782.67 229.33 L787.67 230.58 L792.67 231.42 L797.67 231.83 L801 231.83" fill="none" stroke="#37a8c8" stroke-width="1.5" stroke-linejoin="round" stroke-linecap="round"/>
<path d="M570.5 184.4 L571.88 211.19 L574.33 216.07 L577.58 221.77 L580.84 225.84 L583.28 227.47 L588.16 229.09 L593.05 229.91 L597.93 233.16 L602.81 229.91 L609.33 229.09 L612.58 231.53 L617.47 233.16 L622.35 231.53 L627.23 230.72 L630 228.92 L632.12 229.09 L633.33 228.5 L636.83 230.86 L641.67 231.42 L646.67 224.75 L649.17 228.92 L651.67 226.42 L655 227.67 L658.33 231 L661.67 229.33 L665 231.83 L668.33 234.33 L671.67 234.33 L676.67 235.17 L680 236 L683.33 232.25 L688.33 228.92 L693.33 227.25 L696.67 230.58 L700 227.67 L703.33 230.58 L708.33 228.92 L713.33 230.58 L716.33 228.92 L719.67 231.42 L722.67 230.58 L726.83 232.67 L730.17 234.33 L732.67 231.83 L736 228.92 L741 228.5 L744.33 230.17 L747.67 229.33 L751 231 L756 232.67 L761 231.83 L764.33 232.67 L768.5 228.92 L772.67 231.83 L775.17 228.08 L779.33 231 L784.33 231 L789.33 236 L794.33 235.17 L799.33 235.17 L801 236.83" fill="none" stroke="#f7ba5b" stroke-width="1.5" stroke-linejoin="round" stroke-linecap="round"/>
<path d="M570.5 184.4 L571.56 216.07 L573.51 227.47 L576.77 229.91 L581.65 230.72 L586.53 229.09 L590.6 224.21 L593.86 230.72 L597.12 231.53 L600.37 226.65 L603.63 228.28 L607.7 231.53 L612.58 229.91 L617.47 233.98 L622.35 229.91 L627.23 230.72 L630 229.75 L632.12 231.53 L635 230.17 L637 230.72 L640 228.5 L643.33 230.17 L648.33 231.83 L652.5 233.92 L656.67 233.5 L660 231.83 L663.33 229.75 L666.67 231.83 L670 230.17 L673.33 232.67 L676.67 228.92 L681.67 231 L686.67 234.75 L690 230.17 L693.33 231 L696.67 231.83 L700 231 L705 228.92 L710 229.33 L713.33 231.42 L716 230.17 L719.67 232.67 L723.5 236 L726.83 232.25 L732.67 235.17 L736 231.83 L741 231.83 L744.33 232.25 L747.67 233.5 L752.67 234.33 L756 232.67 L759.33 232.67 L762.67 236.42 L766 234.33 L771 233.92 L774.33 234.33 L779.33 234.33 L782.67 233.5 L786 235.17 L791 236 L796 235.58 L801 233.5" fill="none" stroke="#f26b7d" stroke-width="1.5" stroke-linejoin="round" stroke-linecap="round"/>
<path d="M570.5 184.4 L571.07 203.05 L572.21 220.95 L574.33 219.33 L576.77 221.77 L579.21 220.14 L581.65 222.58 L584.09 225.84 L588.16 227.47 L591.42 227.47 L594.67 229.09 L597.93 232.35 L601.19 231.53 L604.44 230.72 L607.7 234.79 L610.14 229.09 L614.21 234.79 L619.09 235.6 L623.98 232.35 L628.86 233.98 L630 230.58 L632.12 229.91 L632.92 235.17 L633.74 234.79 L635.83 231.42 L637 231.53 L640 231.42 L644.17 228.5 L647.5 231.83 L651.67 228.5 L655 231.42 L657.5 228.08 L660.83 224.75 L663.33 227.67 L666.67 228.08 L668.33 230.58 L670.83 228.5 L673.33 230.58 L676.67 228.92 L680 230.58 L684.17 227.67 L686.67 232.67 L690 232.25 L693.33 234.75 L696.67 230.58 L700 232.25 L703.33 233.92 L705.83 231 L707.5 235.17 L710 232.25 L714.17 234.75 L716.33 230.58 L720 230.17 L721 229.75 L727.67 230.17 L731 228.5 L733.5 231.83 L736 227.67 L738.5 230.17 L741 228.92 L742.67 231.42 L745.17 226.42 L747.67 231.42 L751.83 227.25 L754.33 233.08 L757.67 229.75 L761 229.75 L764.33 231 L766.83 233.5 L770.17 232.25 L773.5 234.33 L776 230.58 L781 231 L786 231 L789.33 230.58 L792.67 231 L794.33 233.5 L798.5 231 L801 232.67" fill="none" stroke="#7b23a0" stroke-width="1.5" stroke-linejoin="round" stroke-linecap="round"/>
<path d="M558.5 181.07 V248.5 H813.9" fill="none" stroke="#5e5e5e" stroke-width="1.15"/>
<line x1="553.9" y1="184.5" x2="558.5" y2="184.5" stroke="#404040" stroke-width="1.15"/>
<line x1="553.9" y1="232.5" x2="558.5" y2="232.5" stroke="#404040" stroke-width="1.15"/>
<line x1="570.5" y1="248.5" x2="570.5" y2="252.5" stroke="#404040" stroke-width="1.15"/>
<line x1="628.5" y1="248.5" x2="628.5" y2="252.5" stroke="#404040" stroke-width="1.15"/>
<line x1="686.5" y1="248.5" x2="686.5" y2="252.5" stroke="#404040" stroke-width="1.15"/>
<line x1="745.5" y1="248.5" x2="745.5" y2="252.5" stroke="#404040" stroke-width="1.15"/>
<line x1="803.5" y1="248.5" x2="803.5" y2="252.5" stroke="#404040" stroke-width="1.15"/>
<text class="k" x="672.15" y="268.8" textLength="26.43" lengthAdjust="spacingAndGlyphs">Lag</text>
<text class="t" x="661.18" y="153.37" textLength="48.52" lengthAdjust="spacingAndGlyphs">theta</text>
<text class="t" x="621.42" y="174.37" textLength="127.66" lengthAdjust="spacingAndGlyphs">Lawrenceville</text>
<rect x="834.5" y="222.9" width="231.76" height="18.9" fill="#e3e3e3"/>
<line x1="834.5" y1="231.9" x2="1066.26" y2="231.9" stroke="#6a6a6a" stroke-width="1.9" stroke-dasharray="5.6 2.5"/>
<path d="M834.5 184.4 L835.88 216.07 L838.33 219.33 L840.77 221.77 L844.02 224.21 L847.28 227.47 L852.16 229.91 L857.05 231.53 L861.93 231.53 L866.81 230.72 L871.7 231.53 L875.77 233.98 L879.84 234.79 L884.72 233.16 L887.98 231.53 L891.23 232.35 L894 230.58 L896.12 231.53 L897.33 231.83 L900.83 231.89 L904 233.92 L907.33 233.5 L911.5 236.42 L915.67 234.75 L920.67 233.5 L924 232.25 L927.33 233.08 L932.33 236 L935.67 233.08 L939 235.58 L942.33 231.83 L947.33 231.83 L952.33 232.25 L957.33 233.5 L962.33 231.42 L967.33 235.58 L972.33 234.75 L975.67 233.5 L980.33 233.29 L983.67 231.42 L988.33 231 L992.5 236 L996.67 233.92 L1000 236.42 L1003.33 234.33 L1006.67 235.58 L1010 235.17 L1013.33 233.92 L1018.33 234.33 L1023.33 234.33 L1026.67 235.17 L1030 233.5 L1033.33 232.25 L1036.67 231.42 L1040 236 L1043.33 231 L1048.33 229.33 L1053.33 230.58 L1058.33 231.42 L1063.33 231.83 L1065 231.42" fill="none" stroke="#37a8c8" stroke-width="1.5" stroke-linejoin="round" stroke-linecap="round"/>
<path d="M834.5 184.4 L835.88 214.44 L838.33 217.7 L840.77 219.33 L844.02 222.58 L847.28 221.77 L852.16 225.84 L857.05 227.47 L861.93 229.91 L866.81 227.47 L873.33 225.84 L878.21 226.65 L883.09 229.91 L887.98 231.53 L892.86 231.53 L894 230.17 L897.54 229.62 L901.25 228.39 L905.67 230.58 L910.67 226.42 L914 229.33 L919 229.75 L924 229.75 L927.33 233.08 L930.67 231.83 L934 232.67 L937.33 231.83 L940.67 231 L945.67 235.17 L950.67 231.42 L953.17 228.5 L955.67 231 L960.67 230.58 L965.67 231.83 L970.67 231.42 L975.67 234.33 L979 236.83 L980 237.25 L984 235.17 L985 236 L988.33 234.33 L993.33 235.17 L1000 232.67 L1005 233.08 L1008.33 235.17 L1013.33 236.42 L1018.33 236.83 L1023.33 236 L1026.67 237.25 L1030 235.17 L1035 231.83 L1038.33 231.42 L1041.67 235.58 L1045 233.5 L1050 234.75 L1053.33 233.5 L1058.33 236 L1061.67 234.75 L1065 233.92" fill="none" stroke="#f7ba5b" stroke-width="1.5" stroke-linejoin="round" stroke-linecap="round"/>
<path d="M834.5 184.4 L835.56 214.44 L838.33 218.51 L840.77 221.77 L844.02 225.84 L847.28 225.02 L852.16 225.84 L857.05 229.09 L861.93 228.28 L866 224.21 L868.44 227.47 L873.33 229.09 L876.58 229.09 L881.47 229.91 L886.35 226.65 L891.23 230.72 L894 231.83 L896.12 233.98 L897.33 234.75 L900.83 230.65 L904 231.42 L907.33 231.83 L912.33 228.92 L917.33 230.17 L922.33 231.83 L927.33 230.58 L930.67 231 L935.67 228.92 L941.5 226.42 L945.67 228.92 L949 228.92 L952.33 231 L957.33 231.83 L962.33 231.42 L967.33 231.83 L972.33 232.67 L975.67 231.83 L980.33 234.96 L983.67 231.21 L988.33 228.92 L991.67 233.08 L995 229.33 L1000 228.92 L1003.33 229.75 L1009.17 228.08 L1011.67 231.83 L1015 233.08 L1020 231.42 L1025 233.5 L1030 233.08 L1033.33 231 L1038.33 230.17 L1043.33 231 L1048.33 231 L1053.33 229.33 L1056.67 232.67 L1061.67 231.83 L1065 231.83" fill="none" stroke="#f26b7d" stroke-width="1.5" stroke-linejoin="round" stroke-linecap="round"/>
<path d="M834.5 184.4 L835.07 199.79 L836.21 212 L838.33 214.44 L840.77 216.07 L843.21 220.14 L845.65 221.77 L848.09 220.95 L852.16 223.4 L855.42 223.4 L858.67 225.02 L861.93 227.47 L865.19 228.28 L870.07 228.28 L873.33 229.91 L876.58 229.09 L881.47 226.65 L884.72 227.47 L887.98 225.02 L891.23 228.28 L894.24 230.24 L897.96 232.51 L901.25 231.88 L904 228.5 L906.5 231.83 L909.83 230.58 L913.17 232.67 L916.5 231.42 L920.67 231.42 L924.83 231 L929 228.08 L933.17 229.75 L937.33 231 L940.67 230.58 L944 229.75 L947.33 232.25 L950.67 231.83 L954 231 L955.67 233.5 L958.17 230.58 L960.67 231.83 L963.17 229.33 L966.5 231 L970.67 233.5 L974 233.08 L977.33 232.25 L980.33 231.42 L983.67 230.17 L986.67 229.33 L990 228.5 L993.33 231 L996.67 233.08 L1000 232.25 L1003.33 233.08 L1006.67 231.42 L1010 230.58 L1013.33 231 L1016.67 228.92 L1021.67 230.17 L1026.67 228.5 L1031.67 229.33 L1035 227.25 L1038.33 228.5 L1041.67 230.17 L1044.17 228.5 L1048.33 233.5 L1051.67 231.83 L1055.83 235.58 L1060 232.67 L1063.33 235.17 L1065 236.83" fill="none" stroke="#7b23a0" stroke-width="1.5" stroke-linejoin="round" stroke-linecap="round"/>
<path d="M823.5 181.07 V248.5 H1078" fill="none" stroke="#5e5e5e" stroke-width="1.15"/>
<line x1="818.9" y1="184.5" x2="823.5" y2="184.5" stroke="#404040" stroke-width="1.15"/>
<line x1="818.9" y1="232.5" x2="823.5" y2="232.5" stroke="#404040" stroke-width="1.15"/>
<line x1="834.5" y1="248.5" x2="834.5" y2="252.5" stroke="#404040" stroke-width="1.15"/>
<line x1="893.5" y1="248.5" x2="893.5" y2="252.5" stroke="#404040" stroke-width="1.15"/>
<line x1="951.5" y1="248.5" x2="951.5" y2="252.5" stroke="#404040" stroke-width="1.15"/>
<line x1="1010.5" y1="248.5" x2="1010.5" y2="252.5" stroke="#404040" stroke-width="1.15"/>
<line x1="1068.5" y1="248.5" x2="1068.5" y2="252.5" stroke="#404040" stroke-width="1.15"/>
<text class="k" x="936.8" y="268.8" textLength="26.43" lengthAdjust="spacingAndGlyphs">Lag</text>
<text class="t" x="925.83" y="153.37" textLength="48.52" lengthAdjust="spacingAndGlyphs">theta</text>
<text class="t" x="907.18" y="174.37" textLength="86.27" lengthAdjust="spacingAndGlyphs">St. Paul&#39;s</text>
<rect x="31.4" y="360" width="231.76" height="18.9" fill="#e3e3e3"/>
<line x1="31.4" y1="370" x2="263.16" y2="370" stroke="#6a6a6a" stroke-width="1.9" stroke-dasharray="5.6 2.5"/>
<path d="M31.4 321.42 L32.88 346.56 L34.51 357.95 L36.95 356.33 L40.21 361.21 L44.28 364.47 L48.35 369.35 L52.42 370.16 L56.49 369.35 L60.56 368.53 L65.44 368.53 L70.33 370.98 L75.21 370.98 L80.09 369.35 L84.98 372.6 L88 371.5 L89.86 370.16 L91.33 369.83 L94.71 369.39 L98 369.58 L101.33 372.33 L104.67 369.83 L108 371.08 L111.33 369.42 L114.67 368.17 L118 370.25 L121.33 367.33 L124.67 368.58 L128 371.5 L129.67 372.33 L133 369.42 L134.67 373.58 L138 369.42 L141.33 369 L144.67 367.75 L148 365.67 L151.33 368.17 L154.67 365.67 L158 369 L161.33 369 L166.33 369.42 L171.33 369 L176 368.17 L178 369 L179.33 367.75 L182.67 369.42 L186 369 L189.33 369.42 L192.67 370.67 L196 370.67 L197.67 374 L199.33 371.5 L201.83 374.83 L204.33 373.17 L206.83 376.08 L209.33 373.17 L211.83 375.25 L214.33 373.17 L217.67 372.33 L221 369.83 L224.33 373.17 L227.67 371.92 L231 369.83 L234.33 372.75 L236.83 369.42 L241 368.58 L246 369 L251 366.5 L254.33 369.83 L259.33 369 L262.67 369.42" fill="none" stroke="#37a8c8" stroke-width="1.5" stroke-linejoin="round" stroke-linecap="round"/>
<path d="M31.4 321.42 L32.88 351.44 L35.33 350.63 L37.77 358.77 L41.84 362.84 L45.91 366.09 L50.79 367.72 L55.67 369.35 L60.56 370.16 L64.63 372.6 L68.7 368.53 L75.21 370.16 L80.09 375.86 L84.98 370.16 L88 369 L89.86 370.16 L91.33 369.42 L94.71 369.18 L97.17 365.25 L98 366.09 L99.67 366.5 L103 368.17 L108 367.33 L111.33 365.25 L114.67 366.08 L119.67 365.25 L123 369.42 L126.33 370.25 L131.33 371.5 L134.67 371.08 L139.67 370.67 L144.67 371.5 L148 369.83 L153 369.42 L158 367.33 L163 365.25 L166.33 367.75 L171.33 368.58 L176.17 370.46 L178 369.42 L179.33 369.42 L182.67 371.08 L186 369.83 L189.33 370.67 L192.67 369.83 L196 367.33 L198.5 371.5 L202.67 371.08 L206 373.58 L209.33 375.67 L211.83 377.33 L216 376.08 L219.33 374 L222.67 372.33 L226 370.67 L231 369.42 L236 369 L240.17 366.5 L244.33 366.92 L247.67 368.17 L251 369.83 L254.33 367.75 L257.67 371.5 L261 369 L262.67 368.58" fill="none" stroke="#f7ba5b" stroke-width="1.5" stroke-linejoin="round" stroke-linecap="round"/>
<path d="M31.4 321.42 L32.56 346.56 L33.7 366.09 L36.14 361.21 L38.58 366.91 L41.84 363.65 L45.91 366.09 L50.79 367.72 L55.67 368.53 L60.56 365.28 L65.44 367.72 L71.95 367.72 L76.84 369.35 L81.72 370.16 L86.6 368.53 L88 369.83 L91.33 370.25 L93.47 370.43 L96.35 364.23 L98 366.91 L99.67 370.25 L104.67 370.25 L110.5 372.33 L113 368.58 L116.33 369.42 L119.67 372.33 L123 368.17 L126.33 367.75 L131.33 369 L134.67 367.75 L138 369.83 L141.33 367.33 L144.67 368.58 L149.67 366.5 L153 372.33 L156.33 368.17 L161.33 367.75 L164.67 364.83 L168 369 L171.33 369.42 L176 366.92 L178 369 L179.33 366.5 L183.5 365.67 L187.67 363.58 L191 367.75 L194.33 369 L197.67 366.5 L201 366.92 L204.33 369 L206.83 365.25 L209.33 370.67 L212.67 371.5 L216 368.17 L219.33 368.58 L222.67 368.58 L226 369.42 L230.17 369 L234.33 368.58 L239.33 371.5 L242.67 371.08 L246 370.25 L249.33 371.92 L252.67 371.08 L256 370.67 L259.33 371.5 L262.67 369" fill="none" stroke="#f26b7d" stroke-width="1.5" stroke-linejoin="round" stroke-linecap="round"/>
<path d="M31.4 321.42 L32.56 341.67 L33.7 360.4 L35.33 362.84 L37.77 362.02 L40.21 360.4 L42.65 362.02 L45.09 357.95 L47.53 362.84 L49.98 368.53 L54.05 366.09 L57.3 370.16 L59.74 364.47 L63 367.72 L66.26 370.16 L69.51 366.09 L72.77 367.72 L76.02 366.09 L79.28 369.35 L82.53 367.72 L85.79 366.09 L88 367.33 L89.05 366.91 L91.33 366.5 L93.47 367.53 L96.35 371.03 L98 369.35 L100.5 368.58 L104.67 367.75 L109.67 368.17 L113 364.83 L116.33 365.67 L119.67 366.5 L123 364.83 L124.67 367.33 L127.17 364 L129.67 365.25 L133 367.33 L135.5 366.5 L138.83 364.83 L141.33 368.17 L143.83 366.92 L148 371.08 L151.33 367.75 L154.67 369 L158 371.5 L161.33 367.33 L163.83 365.67 L166.33 369.42 L168 365.25 L171.33 369.83 L174.67 367.33 L176 366.5 L178 366.5 L179.33 366.92 L182.67 366.92 L186 368.58 L190.17 364.42 L192.67 366.92 L195.17 365.25 L197.67 369 L201 367.33 L204.33 366.92 L207.67 367.33 L211 366.08 L213.5 368.58 L216 365.67 L218.5 366.92 L222.67 362.33 L226 365.25 L228.5 366.92 L232.67 366.5 L236 366.08 L239.33 367.33 L241.83 370.25 L245.17 367.33 L249.33 370.25 L252.67 370.67 L256 373.58 L259.33 370.67 L262.67 369" fill="none" stroke="#7b23a0" stroke-width="1.5" stroke-linejoin="round" stroke-linecap="round"/>
<path d="M20.5 318.07 V385.5 H274.8" fill="none" stroke="#5e5e5e" stroke-width="1.15"/>
<line x1="15.9" y1="321.5" x2="20.5" y2="321.5" stroke="#404040" stroke-width="1.15"/>
<line x1="15.9" y1="370.5" x2="20.5" y2="370.5" stroke="#404040" stroke-width="1.15"/>
<line x1="31.5" y1="385.5" x2="31.5" y2="389.5" stroke="#404040" stroke-width="1.15"/>
<line x1="89.5" y1="385.5" x2="89.5" y2="389.5" stroke="#404040" stroke-width="1.15"/>
<line x1="148.5" y1="385.5" x2="148.5" y2="389.5" stroke="#404040" stroke-width="1.15"/>
<line x1="206.5" y1="385.5" x2="206.5" y2="389.5" stroke="#404040" stroke-width="1.15"/>
<line x1="265.5" y1="385.5" x2="265.5" y2="389.5" stroke="#404040" stroke-width="1.15"/>
<text class="k" x="4.53" y="327.72" textLength="8.37" lengthAdjust="spacingAndGlyphs">1</text>
<text class="k" x="3.72" y="375.66" textLength="8.7" lengthAdjust="spacingAndGlyphs">0</text>
<text class="k" x="26.52" y="404.7" textLength="8.7" lengthAdjust="spacingAndGlyphs">0</text>
<text class="k" x="80.33" y="404.7" textLength="18.07" lengthAdjust="spacingAndGlyphs">25</text>
<text class="k" x="138.89" y="404.7" textLength="18.17" lengthAdjust="spacingAndGlyphs">50</text>
<text class="k" x="197.45" y="404.7" textLength="17.92" lengthAdjust="spacingAndGlyphs">75</text>
<text class="k" x="250.76" y="404.7" textLength="27.79" lengthAdjust="spacingAndGlyphs">100</text>
<text class="k" x="133.7" y="425.1" textLength="26.43" lengthAdjust="spacingAndGlyphs">Lag</text>
<text class="t" x="122.73" y="291.47" textLength="48.52" lengthAdjust="spacingAndGlyphs">theta</text>
<text class="t" x="92.24" y="312.47" textLength="109.51" lengthAdjust="spacingAndGlyphs">Mt. Hermon</text>
<rect x="301.4" y="360" width="230.67" height="18.9" fill="#e3e3e3"/>
<line x1="301.4" y1="370" x2="532.07" y2="370" stroke="#6a6a6a" stroke-width="1.9" stroke-dasharray="5.6 2.5"/>
<path d="M301.4 321.42 L301.7 331.9 L303.32 340.04 L304.95 345.74 L307.39 348.99 L310.65 353.06 L313.09 353.87 L315.53 357.94 L317.97 360.38 L322.04 360.38 L325.29 362.01 L328.55 364.45 L333.43 365.27 L338.31 366.08 L343.2 367.71 L348.08 369.33 L352.96 371.78 L357.84 372.59 L362.73 375.03 L367.61 375.03 L372.49 376.66 L375.75 377.47 L380.63 376.66 L382.09 376.65 L386.28 376.65 L392.57 377.7 L396.75 378.95 L400.94 377.17 L406.18 375.08 L410.37 376.65 L415.6 375.6 L420.84 374.55 L423.98 371.94 L426.07 371.41 L429.21 374.03 L433.4 376.13 L438.64 373.51 L442.83 370.89 L447.02 368.27 L451.2 368.27 L455.2 369.57 L459.19 368.78 L463.37 367.73 L467.56 369.83 L470.7 367.73 L475.93 369.3 L480.12 370.87 L486.4 370.87 L491.63 368.78 L494.77 369.3 L498.95 370.87 L504.19 369.3 L509.42 368.26 L513.6 366.69 L517.79 365.64 L521.98 367.73 L527.21 367.73 L529.83 365.12 L532.44 365.64" fill="none" stroke="#37a8c8" stroke-width="1.5" stroke-linejoin="round" stroke-linecap="round"/>
<path d="M301.4 321.42 L301.7 330.27 L303.32 337.6 L305.76 341.67 L309.02 346.55 L312.27 349.8 L315.53 352.25 L319.6 353.87 L323.67 355.5 L328.55 357.94 L333.43 359.57 L338.31 361.2 L343.2 362.82 L348.08 363.64 L354.59 365.27 L359.47 366.08 L364.35 366.08 L369.24 366.89 L374.12 366.08 L379 367.71 L382.09 365.13 L384.04 365.61 L389.42 364.61 L393.61 365.65 L396.75 366.7 L400.94 369.32 L405.13 369.84 L409.32 369.32 L413.51 368.8 L417.7 368.27 L421.88 365.65 L425.03 364.08 L429.21 365.65 L434.45 366.18 L438.64 367.23 L442.83 368.27 L447.02 369.32 L450.16 370.89 L453.3 369.84 L455 370.35 L457.49 370.37 L459.19 369.83 L463.37 369.3 L467.56 369.3 L471.74 368.78 L475.93 369.83 L480.12 370.35 L486.4 369.83 L492.67 370.87 L498.95 371.4 L505.23 370.87 L511.51 370.35 L515.7 369.83 L521.98 370.35 L528.26 371.4 L532.44 372.44" fill="none" stroke="#f7ba5b" stroke-width="1.5" stroke-linejoin="round" stroke-linecap="round"/>
<path d="M301.4 321.42 L301.7 331.9 L304.14 340.04 L307.39 345.74 L311.46 351.43 L314.72 355.5 L318.78 357.94 L322.04 357.13 L326.11 355.5 L330.18 354.69 L335.06 353.87 L339.94 353.87 L343.2 357.13 L346.45 359.57 L351.33 361.2 L356.22 362.01 L361.1 362.82 L365.98 362.01 L370.86 358.76 L375.75 361.2 L380.63 362.82 L382.09 365.13 L385.24 367.23 L390.47 368.27 L394.66 367.75 L398.85 368.8 L404.08 369.84 L409.32 370.37 L415.6 370.37 L419.79 370.37 L423.98 371.41 L428.17 371.41 L432.36 372.98 L438.64 374.55 L442.83 376.13 L448.06 377.17 L452.25 378.22 L454.67 379.26 L457.81 376.64 L462.33 372.97 L466.51 370.87 L470.7 370.35 L475.93 371.4 L480.12 373.49 L485.35 375.58 L489.53 378.72 L494.77 379.24 L498.95 376.63 L505.23 373.49 L509.42 374.01 L513.6 376.63 L519.88 378.2 L524.59 382.38 L528.26 379.77 L532.44 378.72" fill="none" stroke="#f26b7d" stroke-width="1.5" stroke-linejoin="round" stroke-linecap="round"/>
<path d="M301.4 321.42 L301.7 325.39 L303.32 333.53 L305.76 335.97 L308.21 340.85 L311.46 344.11 L314.72 348.99 L317.97 353.06 L322.04 356.31 L326.11 359.57 L330.18 362.01 L335.06 363.64 L339.94 365.27 L344.82 366.08 L349.71 366.89 L354.59 368.52 L359.47 370.15 L364.35 371.78 L369.24 370.96 L374.12 371.78 L379 370.96 L382.18 371.59 L385.24 369.84 L390.47 369.84 L394.66 368.8 L398.85 367.75 L403.04 366.7 L407.23 365.65 L411.41 366.18 L415.6 365.65 L419.79 365.65 L423.98 365.13 L428.17 365.65 L432.36 366.18 L436.54 366.7 L440.73 368.27 L444.92 368.8 L449.11 368.27 L453.3 369.32 L455 369.3 L457.49 369.84 L459.19 368.26 L462.33 370.87 L466.51 370.35 L470.7 369.3 L474.88 370.35 L480.12 369.3 L484.3 370.87 L488.49 372.44 L493.72 372.97 L498.95 370.87 L504.19 369.3 L509.42 367.73 L513.6 367.21 L519.88 367.73 L526.16 368.78 L530.35 370.35 L532.44 371.4" fill="none" stroke="#7b23a0" stroke-width="1.5" stroke-linejoin="round" stroke-linecap="round"/>
<path d="M289.5 318.07 V385.5 H543.8" fill="none" stroke="#5e5e5e" stroke-width="1.15"/>
<line x1="284.9" y1="321.5" x2="289.5" y2="321.5" stroke="#404040" stroke-width="1.15"/>
<line x1="284.9" y1="370.5" x2="289.5" y2="370.5" stroke="#404040" stroke-width="1.15"/>
<line x1="301.5" y1="385.5" x2="301.5" y2="389.5" stroke="#404040" stroke-width="1.15"/>
<line x1="359.5" y1="385.5" x2="359.5" y2="389.5" stroke="#404040" stroke-width="1.15"/>
<line x1="417.5" y1="385.5" x2="417.5" y2="389.5" stroke="#404040" stroke-width="1.15"/>
<line x1="476.5" y1="385.5" x2="476.5" y2="389.5" stroke="#404040" stroke-width="1.15"/>
<line x1="534.5" y1="385.5" x2="534.5" y2="389.5" stroke="#404040" stroke-width="1.15"/>
<text class="k" x="296.52" y="404.7" textLength="8.7" lengthAdjust="spacingAndGlyphs">0</text>
<text class="k" x="350.05" y="404.7" textLength="18.07" lengthAdjust="spacingAndGlyphs">25</text>
<text class="k" x="408.34" y="404.7" textLength="18.17" lengthAdjust="spacingAndGlyphs">50</text>
<text class="k" x="466.63" y="404.7" textLength="17.92" lengthAdjust="spacingAndGlyphs">75</text>
<text class="k" x="519.66" y="404.7" textLength="27.79" lengthAdjust="spacingAndGlyphs">100</text>
<text class="k" x="402.65" y="425.1" textLength="26.43" lengthAdjust="spacingAndGlyphs">Lag</text>
<text class="t" x="401.26" y="312.47" textLength="30.81" lengthAdjust="spacingAndGlyphs">tau</text>
</svg></body></html>
